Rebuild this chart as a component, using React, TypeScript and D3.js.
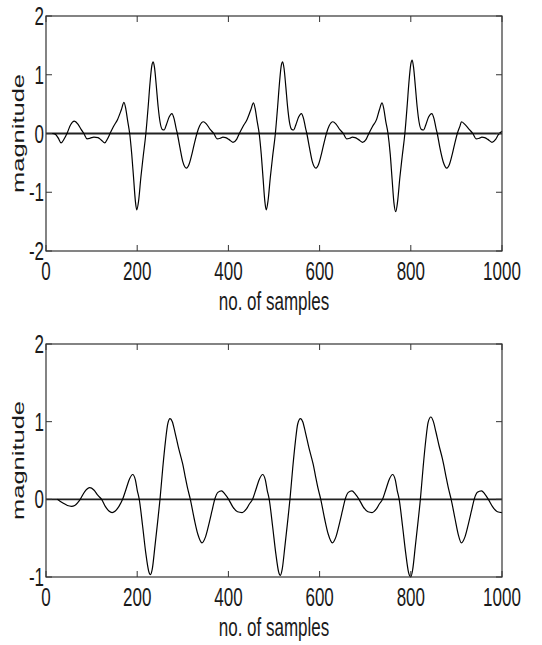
import React from 'react';
import * as d3 from 'd3';

const xTicks = [0, 200, 400, 600, 800, 1000];
const topYTicks = [-2, -1, 0, 1, 2];
const bottomYTicks = [-1, 0, 1, 2];
const xLabel = 'no. of samples';
const yLabel = 'magnitude';

const topSamples = [
  14, 20, 27, 33, 40, 46, 54, 62, 70, 77, 83, 90, 97, 105, 114, 121, 129, 135,
  140.5, 148, 157, 165, 171, 175, 179, 183.5, 188, 192, 196, 199, 203, 208, 213, 219, 224, 228, 232, 235, 238, 242, 246, 250, 255, 259, 264, 270, 276, 281, 285, 288, 294, 300, 308, 314, 320, 326, 331, 337, 345, 352, 360, 368, 375, 382, 388, 394, 401, 410, 418,
  424, 432, 441, 449, 455, 459, 463, 467.5, 472, 476, 480, 483, 487, 492, 497, 503, 508, 512, 516, 519, 522, 526, 530, 534, 539, 543, 548, 554, 560, 565, 569, 572, 578, 584, 592, 598, 604, 610, 615, 621, 629, 636, 644, 652, 659, 666, 672, 678, 685, 694, 702,
  708, 716, 725, 731, 737, 741, 745, 750, 755, 759, 763, 767, 771, 776, 781, 787, 792, 796, 800, 803, 806, 810, 814, 818, 823, 828, 833, 839, 846, 851, 855, 858, 864, 871, 879, 885, 891, 897, 902, 908, 911, 918, 928, 936, 943, 950, 956, 962, 969, 978, 986, 992, 1000
];
const topValues = [
  0, -0.01, -0.08, -0.16, -0.09, 0, 0.15, 0.21, 0.16, 0.07, 0, -0.09, -0.08, -0.06, -0.07, -0.11, -0.16, -0.09,
  0, 0.12, 0.24, 0.4, 0.53, 0.42, 0.22, 0, -0.35, -0.75, -1.15, -1.3, -1.15, -0.75, -0.4, 0, 0.45, 0.85, 1.15, 1.22, 1.12, 0.8, 0.45, 0.2, 0.07, 0.06, 0.15, 0.28, 0.34, 0.25, 0.1, 0, -0.25, -0.48, -0.59, -0.52, -0.35, -0.15, 0, 0.13, 0.2, 0.16, 0.07, 0, -0.09, -0.08, -0.06, -0.07, -0.1, -0.15, -0.1,
  0, 0.12, 0.24, 0.4, 0.52, 0.41, 0.21, 0, -0.35, -0.76, -1.16, -1.3, -1.14, -0.74, -0.39, 0, 0.46, 0.86, 1.16, 1.22, 1.11, 0.79, 0.44, 0.19, 0.07, 0.06, 0.15, 0.28, 0.34, 0.25, 0.1, 0, -0.25, -0.48, -0.59, -0.52, -0.35, -0.15, 0, 0.13, 0.2, 0.16, 0.07, 0, -0.09, -0.08, -0.06, -0.07, -0.1, -0.15, -0.1,
  0, 0.12, 0.24, 0.4, 0.52, 0.41, 0.21, 0, -0.36, -0.78, -1.18, -1.33, -1.16, -0.75, -0.4, 0, 0.47, 0.88, 1.18, 1.25, 1.13, 0.8, 0.45, 0.2, 0.07, 0.06, 0.15, 0.28, 0.34, 0.25, 0.1, 0, -0.25, -0.48, -0.59, -0.52, -0.35, -0.15, 0, 0.13, 0.2, 0.16, 0.07, 0, -0.09, -0.08, -0.06, -0.07, -0.1, -0.15, -0.1, -0.02, 0.04
];

const bottomSamples = [
  25, 30, 38, 47, 56, 63, 70, 75, 85, 96, 105, 114, 122, 130, 138, 145, 152, 160,
  168, 175, 183, 190, 196, 200, 204.5, 212, 219, 225, 229, 233, 239, 245, 250, 256, 262, 267, 272, 277, 283, 290, 297, 300, 305, 311, 316.5, 325, 333, 342, 350, 358, 364, 370, 377, 385, 392, 400.5, 410, 420, 430, 440, 446,
  453, 460, 468, 475, 481, 485, 489.5, 497, 504, 510, 514, 518, 524, 530, 535, 541, 547, 552, 558, 563, 569, 576, 583, 586, 591, 597, 602.5, 611, 619, 628, 636, 644, 650, 656, 663, 671, 678, 686.5, 696, 706, 715, 725, 731,
  738, 745, 753, 760, 766, 770, 774.5, 782, 789, 795, 800, 804, 810, 816, 821, 827, 833, 838, 844, 849, 855, 862, 869, 872, 877, 883, 888.5, 897, 904, 911, 919, 927, 933, 939, 946, 955, 962, 970, 980, 990, 1000
];
const bottomValues = [
  0, -0.02, -0.05, -0.08, -0.09, -0.08, -0.04, 0, 0.1, 0.15, 0.12, 0.05, 0, -0.09, -0.15, -0.17, -0.15, -0.09,
  0, 0.12, 0.26, 0.32, 0.25, 0.12, 0, -0.35, -0.7, -0.92, -0.97, -0.9, -0.6, -0.28, 0, 0.4, 0.75, 0.97, 1.04, 1.0, 0.86, 0.68, 0.52, 0.45, 0.3, 0.13, 0, -0.25, -0.45, -0.56, -0.48, -0.3, -0.15, 0, 0.09, 0.11, 0.07, 0, -0.1, -0.16, -0.17, -0.12, -0.06,
  0, 0.12, 0.26, 0.32, 0.25, 0.12, 0, -0.35, -0.7, -0.93, -0.98, -0.9, -0.6, -0.28, 0, 0.4, 0.75, 0.97, 1.04, 1.0, 0.86, 0.68, 0.52, 0.45, 0.3, 0.13, 0, -0.25, -0.45, -0.56, -0.48, -0.3, -0.15, 0, 0.09, 0.11, 0.07, 0, -0.1, -0.16, -0.17, -0.12, -0.06,
  0, 0.12, 0.26, 0.32, 0.25, 0.12, 0, -0.35, -0.7, -0.94, -1.0, -0.91, -0.6, -0.28, 0, 0.41, 0.77, 0.99, 1.06, 1.01, 0.87, 0.69, 0.53, 0.45, 0.3, 0.13, 0, -0.25, -0.45, -0.56, -0.48, -0.3, -0.15, 0, 0.09, 0.11, 0.07, 0, -0.1, -0.16, -0.17
];

const W = 542;
const H = 645;
const FONT = '"Liberation Sans", Arial, Helvetica, sans-serif';
const FS = 17;
const SY = 1.5;
const TICK = 6;
const LEFT = 46;
const RIGHT = 502;

type PanelProps = {
  top: number;
  bottom: number;
  yDomain: [number, number];
  yTicks: number[];
  samples: number[];
  values: number[];
};

function Panel({ top, bottom, yDomain, yTicks, samples, values }: PanelProps) {
  const x = d3.scaleLinear().domain([0, 1000]).range([LEFT, RIGHT]);
  const y = d3.scaleLinear().domain(yDomain).range([bottom, top]);
  const pts: [number, number][] = samples.map((s, i) => [s, values[i]]);
  const line = d3
    .line<[number, number]>()
    .x((d) => x(d[0]))
    .y((d) => y(d[1]))
    .curve(d3.curveMonotoneX);
  const digitH = 0.716 * FS * SY;
  const txt = '#1a1a1a';
  return (
    <g>
      {/* zero line */}
      <line x1={x(0)} x2={x(1000)} y1={y(0)} y2={y(0)} stroke="#222" strokeWidth={1.8} />
      {/* signal */}
      <path d={line(pts) || ''} fill="none" stroke="#000" strokeWidth={1.2} strokeLinejoin="round" />
      {/* frame */}
      <rect x={LEFT} y={top} width={RIGHT - LEFT} height={bottom - top} fill="none" stroke="#333" strokeWidth={1.2} />
      {/* x ticks */}
      {xTicks.map((t) => (
        <g key={'xt' + t}>
          <line x1={x(t)} x2={x(t)} y1={bottom} y2={bottom - TICK} stroke="#333" strokeWidth={1} />
          <line x1={x(t)} x2={x(t)} y1={top} y2={top + TICK} stroke="#333" strokeWidth={1} />
          <text
            transform={`translate(${x(t)},${bottom + 29}) scale(1,${SY})`}
            textAnchor="middle"
            fontFamily={FONT}
            fontSize={FS}
            fill={txt}
          >
            {t}
          </text>
        </g>
      ))}
      {/* y ticks */}
      {yTicks.map((t) => (
        <g key={'yt' + t}>
          <line x1={LEFT} x2={LEFT + TICK} y1={y(t)} y2={y(t)} stroke="#333" strokeWidth={1} />
          <line x1={RIGHT} x2={RIGHT - TICK} y1={y(t)} y2={y(t)} stroke="#333" strokeWidth={1} />
          <text
            transform={`translate(${LEFT - 2},${y(t) + digitH / 2}) scale(1,${SY})`}
            textAnchor="end"
            fontFamily={FONT}
            fontSize={FS}
            fill={txt}
          >
            {t}
          </text>
        </g>
      ))}
      {/* axis labels */}
      <text
        transform={`translate(${(LEFT + RIGHT) / 2},${bottom + 59}) scale(1,${SY})`}
        textAnchor="middle"
        fontFamily={FONT}
        fontSize={FS}
        fill={txt}
      >
        {xLabel}
      </text>
      <text
        transform={`translate(24,${(top + bottom) / 2}) scale(1,${SY}) rotate(-90)`}
        textAnchor="middle"
        fontFamily={FONT}
        fontSize={FS}
        fill={txt}
      >
        {yLabel}
      </text>
    </g>
  );
}

export default function App() {
  return (
    <svg
      width={W}
      height={H}
      viewBox={`0 0 ${W} ${H}`}
      style={{ position: 'absolute', left: 0, top: 0, display: 'block', background: '#fff' }}
    >
      <rect x={0} y={0} width={W} height={H} fill="#fff" />
      <Panel top={16} bottom={251} yDomain={[-2, 2]} yTicks={topYTicks} samples={topSamples} values={topValues} />
      <Panel top={344} bottom={577} yDomain={[-1, 2]} yTicks={bottomYTicks} samples={bottomSamples} values={bottomValues} />
    </svg>
  );
}
